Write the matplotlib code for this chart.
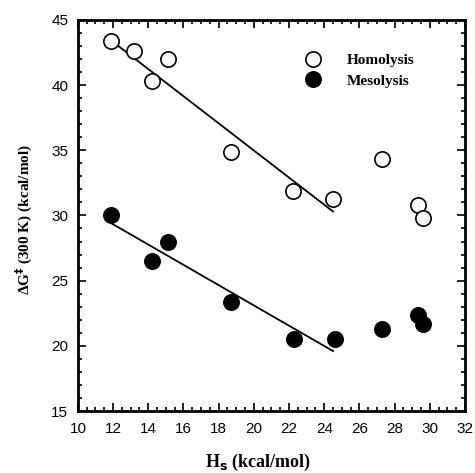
import matplotlib
matplotlib.use("Agg")
from matplotlib import pyplot as plt
from matplotlib.ticker import MultipleLocator

# values
homo_x = [11.9, 13.2, 14.2, 15.1, 18.7, 22.2, 24.5, 27.3, 29.3, 29.6]
homo_y = [43.4, 42.6, 40.3, 42.0, 34.9, 31.9, 31.3, 34.3, 30.8, 29.8]
meso_x = [11.9, 14.2, 15.1, 18.7, 22.3, 24.6, 27.3, 29.3, 29.6]
meso_y = [30.0, 26.5, 28.0, 23.4, 20.5, 20.5, 21.3, 22.4, 21.7]

# fitted lines (endpoints)
homo_fit_x = [12.2, 24.5]
homo_fit_y = [43.1, 30.3]
meso_fit_x = [11.9, 24.5]
meso_fit_y = [29.4, 19.6]

fig = plt.figure(figsize=(4.75, 4.73), dpi=100)
ax = fig.add_axes([0.164, 0.131, 0.815, 0.827])

ax.plot(homo_fit_x, homo_fit_y, color="black", lw=1.3)
ax.plot(meso_fit_x, meso_fit_y, color="black", lw=1.3)
ax.plot(homo_x, homo_y, "o", ms=11, mfc="white", mec="black", mew=1.2, label="Homolysis")
ax.plot(meso_x, meso_y, "o", ms=11, mfc="black", mec="black", mew=1.2, label="Mesolysis")

ax.set_xlim(10, 32)
ax.set_ylim(15, 45)
ax.xaxis.set_major_locator(MultipleLocator(2))
ax.xaxis.set_minor_locator(MultipleLocator(0.5))
ax.yaxis.set_major_locator(MultipleLocator(5))
ax.yaxis.set_minor_locator(MultipleLocator(1))
ax.tick_params(which="both", direction="in", top=True, right=True, width=1.2)
ax.tick_params(which="major", length=6, labelsize=11)
ax.tick_params(which="minor", length=3)
ax.tick_params(axis="x", pad=8)
ax.tick_params(axis="y", pad=7)
for lab in ax.get_xticklabels() + ax.get_yticklabels():
    lab.set_family("Liberation Sans")
for s in ax.spines.values():
    s.set_linewidth(2)

ax.set_xlabel("H$_\\mathbf{s}$ (kcal/mol)", family="Liberation Serif",
              fontweight="bold", fontsize=13)
ax.xaxis.set_label_coords(0.464, -0.105)
ax.set_ylabel("\u0394G$^\\mathbf{\u2021}$ (300 K) (kcal/mol)", family="Liberation Serif",
              fontweight="bold", fontsize=11)
ax.yaxis.set_label_coords(-0.11, 0.49)

leg = ax.legend(loc="upper right", bbox_to_anchor=(0.885, 0.93), frameon=False,
                prop={"family": "Liberation Serif", "weight": "bold", "size": 11},
                handletextpad=1.2, labelspacing=0.45, borderaxespad=0)

fig.savefig("out.png", dpi=100)
